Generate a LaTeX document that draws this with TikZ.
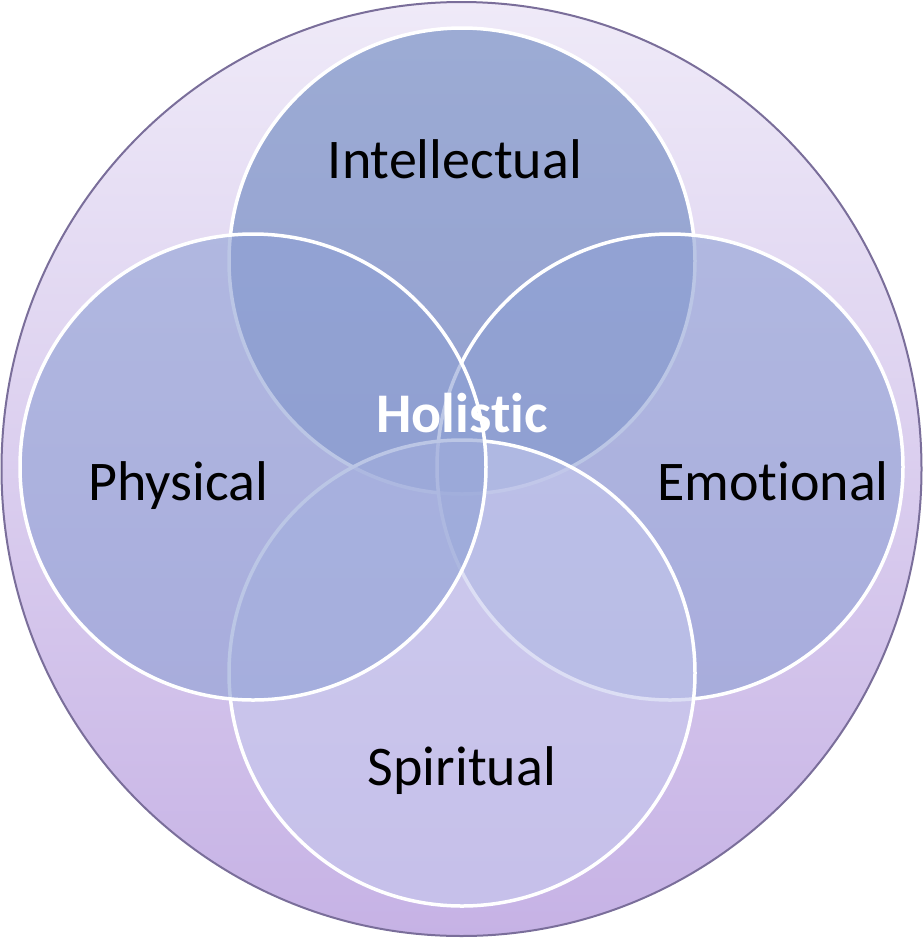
\documentclass[tikz,border=0pt]{standalone}
\usepackage{fontspec}
\setmainfont{Carlito}[Ligatures=NoCommon]
\definecolor{ringtop}{RGB}{239,234,248}
\definecolor{ringbottom}{RGB}{198,178,229}
\definecolor{ringedge}{RGB}{122,110,154}
\definecolor{intelblue}{RGB}{102,131,189}
\definecolor{sideblue}{RGB}{142,160,212}
\definecolor{spiritblue}{RGB}{197,200,237}
\tikzset{
  venn/.style={
    x=1pt,
    y=-1pt
  },
  ring/.style={
    draw=ringedge,
    line width=2pt,
    top color=ringtop,
    bottom color=ringbottom
  },
  petal/.style={
    draw=white,
    line width=3.5pt,
    fill opacity=0.6
  },
  label-black/.style={
    anchor=base,
    inner sep=0pt,
    text=black,
    font=\fontsize{56}{60}\selectfont
  },
  label-white/.style={
    anchor=base,
    inner sep=0pt,
    text=white,
    font=\fontsize{56}{60}\selectfont\bfseries
  }
}

\begin{document}
\begin{tikzpicture}[venn]
  \useasboundingbox (0,0) rectangle (923,938);
  % outer ring
  \path[ring] (461.5,469) ellipse [x radius=460, y radius=467];
  % the four circles
  \path[petal, fill=intelblue] (462,261) circle [radius=233];
  \path[petal, fill=sideblue] (670,467) circle [radius=233];
  \path[petal, fill=spiritblue] (462,673) circle [radius=233];
  \path[petal, fill=sideblue] (253,467) circle [radius=233];
  % labels
  \node[label-black] (intel) at (455,178) {Intellectual};
  \node[label-black] (phys) at (178,500) {Physical};
  \node[label-black] (emot) at (773,500) {Emotional};
  \node[label-black] (spirit) at (462,785) {Spiritual};
  \node[label-white] (holist) at (462,432) {Holistic};
\end{tikzpicture}
\end{document}
